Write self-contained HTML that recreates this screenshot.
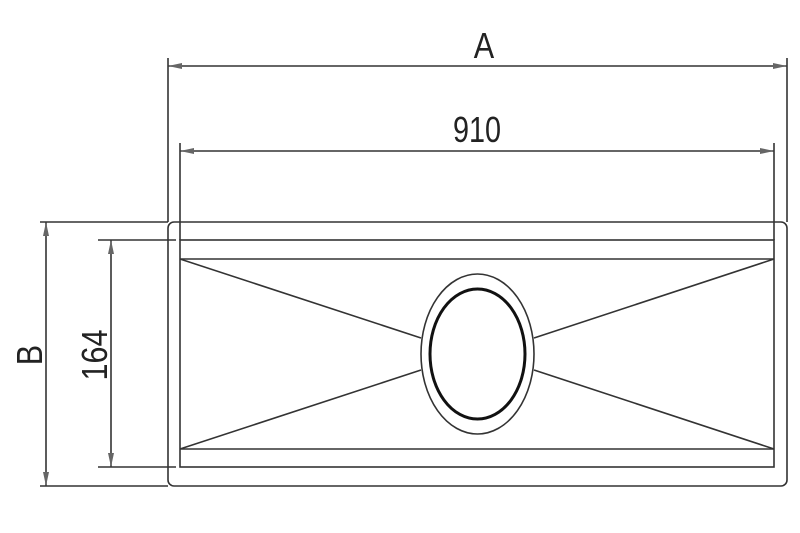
<!DOCTYPE html>
<html><head><meta charset="utf-8"><style>html,body{margin:0;padding:0;background:#fff}svg{display:block}</style></head>
<body>
<svg width="800" height="533" viewBox="0 0 800 533" xmlns="http://www.w3.org/2000/svg">
<defs>
<marker id="ar" markerWidth="14" markerHeight="8" refX="14" refY="4" orient="auto-start-reverse" markerUnits="userSpaceOnUse">
<path d="M0,1 L14,4 L0,7 Z" fill="#666"/>
</marker>
</defs>
<g stroke="#333" stroke-width="1.6" fill="none">
<rect x="168" y="222" width="619" height="264" rx="6"/>
<rect x="180" y="240" width="594" height="227"/>
<line x1="180" y1="259" x2="774" y2="259"/>
<line x1="180" y1="449" x2="774" y2="449"/>
<line x1="180" y1="259" x2="421" y2="338"/>
<line x1="180" y1="449" x2="421" y2="370"/>
<line x1="774" y1="259" x2="534" y2="338"/>
<line x1="774" y1="449" x2="534" y2="370"/>
<ellipse cx="477.5" cy="354" rx="56.5" ry="80" fill="#fff"/>
<ellipse cx="477.5" cy="354" rx="47.5" ry="65" stroke="#111" stroke-width="3"/>
<line x1="168" y1="58" x2="168" y2="222"/>
<line x1="787" y1="58" x2="787" y2="222"/>
<line x1="168" y1="66" x2="787" y2="66" marker-start="url(#ar)" marker-end="url(#ar)"/>
<line x1="180" y1="143" x2="180" y2="240"/>
<line x1="774" y1="143" x2="774" y2="240"/>
<line x1="180" y1="151" x2="774" y2="151" marker-start="url(#ar)" marker-end="url(#ar)"/>
<line x1="40" y1="222" x2="168" y2="222"/>
<line x1="40" y1="486" x2="168" y2="486"/>
<line x1="46" y1="222" x2="46" y2="486" marker-start="url(#ar)" marker-end="url(#ar)"/>
<line x1="98" y1="240" x2="176" y2="240"/>
<line x1="98" y1="467" x2="176" y2="467"/>
<line x1="111" y1="240" x2="111" y2="467" marker-start="url(#ar)" marker-end="url(#ar)"/>
</g>
<g font-family="Liberation Sans, sans-serif" fill="#222" text-anchor="middle">
<text transform="translate(484,58) scale(0.85,1)" font-size="36">A</text>
<text transform="translate(477,142) scale(0.8,1)" font-size="36">910</text>
<text transform="translate(42,355) rotate(-90) scale(0.85,1)" font-size="36">B</text>
<text transform="translate(107,355) rotate(-90) scale(0.85,1)" font-size="36">164</text>
</g>
</svg>
</body></html>
